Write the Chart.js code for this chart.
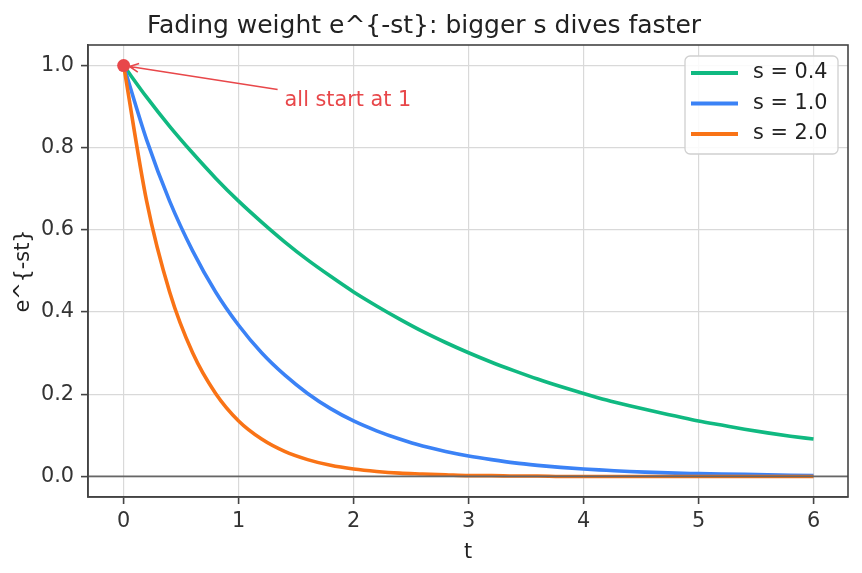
<!DOCTYPE html>
<html>
<head>
<meta charset="utf-8">
<script src="https://cdn.jsdelivr.net/npm/chart.js@4.4.0/dist/chart.umd.min.js"></script>
<style>
  body { margin: 0; background: #fff; }
  #grafico { display: block; }
</style>
</head>
<body>
<canvas id="grafico" width="862" height="573"></canvas>
<script>
// valores (passo de 0.2 em t)
const tempos = [0, 0.2, 0.4, 0.6, 0.8, 1.0, 1.2, 1.4, 1.6, 1.8, 2.0, 2.2, 2.4, 2.6, 2.8, 3.0,
  3.2, 3.4, 3.6, 3.8, 4.0, 4.2, 4.4, 4.6, 4.8, 5.0, 5.2, 5.4, 5.6, 5.8, 6.0];
const pesoS04 = [1, 0.923, 0.852, 0.787, 0.726, 0.670, 0.619, 0.571, 0.527, 0.487, 0.449,
  0.415, 0.383, 0.353, 0.326, 0.301, 0.278, 0.257, 0.237, 0.219, 0.202, 0.186, 0.172,
  0.159, 0.147, 0.135, 0.125, 0.115, 0.106, 0.098, 0.091];
const pesoS10 = [1, 0.819, 0.670, 0.549, 0.449, 0.368, 0.301, 0.247, 0.202, 0.165, 0.135,
  0.111, 0.091, 0.074, 0.061, 0.050, 0.041, 0.033, 0.027, 0.022, 0.018, 0.015, 0.012,
  0.010, 0.008, 0.007, 0.006, 0.005, 0.004, 0.003, 0.002];
const pesoS20 = [1, 0.670, 0.449, 0.301, 0.202, 0.135, 0.091, 0.061, 0.041, 0.027, 0.018,
  0.012, 0.008, 0.006, 0.004, 0.002, 0.002, 0.001, 0.001, 0, 0, 0, 0, 0, 0, 0, 0, 0, 0, 0, 0];
const rotulosSerie = ["s = 0.4", "s = 1.0", "s = 2.0"];
const coresSerie = ["#10b981", "#3b82f6", "#f97316"];
const ticksX = [0, 1, 2, 3, 4, 5, 6];
const ticksY = [0, 0.2, 0.4, 0.6, 0.8, 1.0];
const pontoInicio = [0, 1];
const textoNota = "all start at 1";
const posTextoNota = [1.4, 0.915];

const corNota = "#e8474a";
const fonte = "'DejaVu Sans', sans-serif";
Chart.defaults.font.family = fonte;
Chart.defaults.color = "#333";

function pontos(valores) {
  return tempos.map((t, i) => ({ x: t, y: valores[i] }));
}

const molduraPlugin = {
  id: "moldura",
  afterDatasetsDraw(chart) {
    const ctx = chart.ctx;
    const area = chart.chartArea;
    const y0 = chart.scales.y.getPixelForValue(0);
    ctx.save();
    ctx.strokeStyle = "#666";
    ctx.lineWidth = 1.8;
    ctx.beginPath();
    ctx.moveTo(area.left, y0);
    ctx.lineTo(area.right, y0);
    ctx.stroke();
    ctx.restore();
  },
  afterDraw(chart) {
    const ctx = chart.ctx;
    const area = chart.chartArea;
    const sx = chart.scales.x;
    const sy = chart.scales.y;
    ctx.save();

    // caixa do eixo
    ctx.strokeStyle = "#444";
    ctx.lineWidth = 1.6;
    ctx.strokeRect(area.left, area.top, area.right - area.left, area.bottom - area.top);

    // anotacao
    const px = sx.getPixelForValue(pontoInicio[0]);
    const py = sy.getPixelForValue(pontoInicio[1]);
    const tx = sx.getPixelForValue(posTextoNota[0]);
    const ty = sy.getPixelForValue(posTextoNota[1]);
    ctx.font = "20.8px " + fonte;
    ctx.fillStyle = corNota;
    ctx.textAlign = "left";
    ctx.textBaseline = "middle";
    ctx.fillText(textoNota, tx, ty);

    const ax = tx - 7, ay = ty - 11;
    const dx = px - ax, dy = py - ay;
    const len = Math.sqrt(dx * dx + dy * dy);
    const ux = dx / len, uy = dy / len;
    const ex = px - ux * 6, ey = py - uy * 6;
    ctx.strokeStyle = corNota;
    ctx.lineWidth = 1.6;
    ctx.beginPath();
    ctx.moveTo(ax, ay);
    ctx.lineTo(ex, ey);
    const ang = Math.atan2(uy, ux);
    const cab = 10;
    ctx.moveTo(ex - cab * Math.cos(ang - 0.45), ey - cab * Math.sin(ang - 0.45));
    ctx.lineTo(ex, ey);
    ctx.lineTo(ex - cab * Math.cos(ang + 0.45), ey - cab * Math.sin(ang + 0.45));
    ctx.stroke();

    // legenda
    const lx = area.right - 163, ly = area.top + 11, lw = 153, lh = 98;
    ctx.fillStyle = "rgba(255,255,255,0.85)";
    ctx.strokeStyle = "#d0d0d0";
    ctx.lineWidth = 1.3;
    ctx.beginPath();
    ctx.roundRect(lx, ly, lw, lh, 5);
    ctx.fill();
    ctx.stroke();
    ctx.font = "20.8px " + fonte;
    ctx.textBaseline = "middle";
    rotulosSerie.forEach((rotulo, i) => {
      const yy = ly + 17 + i * 30.5;
      ctx.strokeStyle = coresSerie[i];
      ctx.lineWidth = 3.8;
      ctx.beginPath();
      ctx.moveTo(lx + 6, yy);
      ctx.lineTo(lx + 53, yy);
      ctx.stroke();
      ctx.fillStyle = "#222";
      ctx.fillText(rotulo, lx + 68, yy);
    });
    ctx.restore();
  },
};

const series = [pesoS04, pesoS10, pesoS20].map((valores, i) => ({
  label: rotulosSerie[i],
  data: pontos(valores),
  borderColor: coresSerie[i],
  backgroundColor: coresSerie[i],
  borderWidth: 3.6,
  pointRadius: 0,
  cubicInterpolationMode: "monotone",
  showLine: true,
  order: 4 - i,
}));

series.push({
  label: "inicio",
  data: [{ x: pontoInicio[0], y: pontoInicio[1] }],
  backgroundColor: corNota,
  borderColor: corNota,
  pointRadius: 6.5,
  borderWidth: 0,
  showLine: false,
  order: 0,
});

new Chart(document.getElementById("grafico").getContext("2d"), {
  type: "scatter",
  data: { datasets: series },
  options: {
    responsive: false,
    animation: false,
    devicePixelRatio: 1,
    layout: { padding: { left: 0, right: 14, top: 0, bottom: 0 } },
    plugins: {
      legend: { display: false },
      tooltip: { enabled: false },
      title: {
        display: true,
        text: "Fading weight e^{-st}: bigger s dives faster",
        color: "#222",
        font: { size: 25, weight: "normal" },
        padding: { top: 11, bottom: 4 },
      },
    },
    scales: {
      x: {
        type: "linear",
        min: -0.31,
        max: 6.3,
        afterFit: (scale) => { scale.height = 76; },
        afterBuildTicks: (scale) => { scale.ticks = ticksX.map((v) => ({ value: v })); },
        ticks: { font: { size: 20.8 }, color: "#333", padding: 5 },
        grid: { color: "#d9d9d9", lineWidth: 1.2, tickLength: 7, tickColor: "#444", tickWidth: 1.6 },
        border: { color: "#444", width: 1.6 },
        title: { display: true, text: "t", font: { size: 20.8 }, color: "#222", padding: { top: 4, bottom: 8 } },
      },
      y: {
        type: "linear",
        min: -0.05,
        max: 1.05,
        afterFit: (scale) => { scale.width = 88; },
        afterBuildTicks: (scale) => { scale.ticks = ticksY.map((v) => ({ value: v })); },
        ticks: { font: { size: 20.8 }, color: "#333", padding: 7, callback: (v) => v.toFixed(1) },
        grid: { color: "#d9d9d9", lineWidth: 1.2, tickLength: 7, tickColor: "#444", tickWidth: 1.6 },
        border: { color: "#444", width: 1.6 },
        title: { display: true, text: "e^{-st}", font: { size: 20.8 }, color: "#222", padding: { top: 11 } },
      },
    },
  },
  plugins: [molduraPlugin],
});
</script>
</body>
</html>
